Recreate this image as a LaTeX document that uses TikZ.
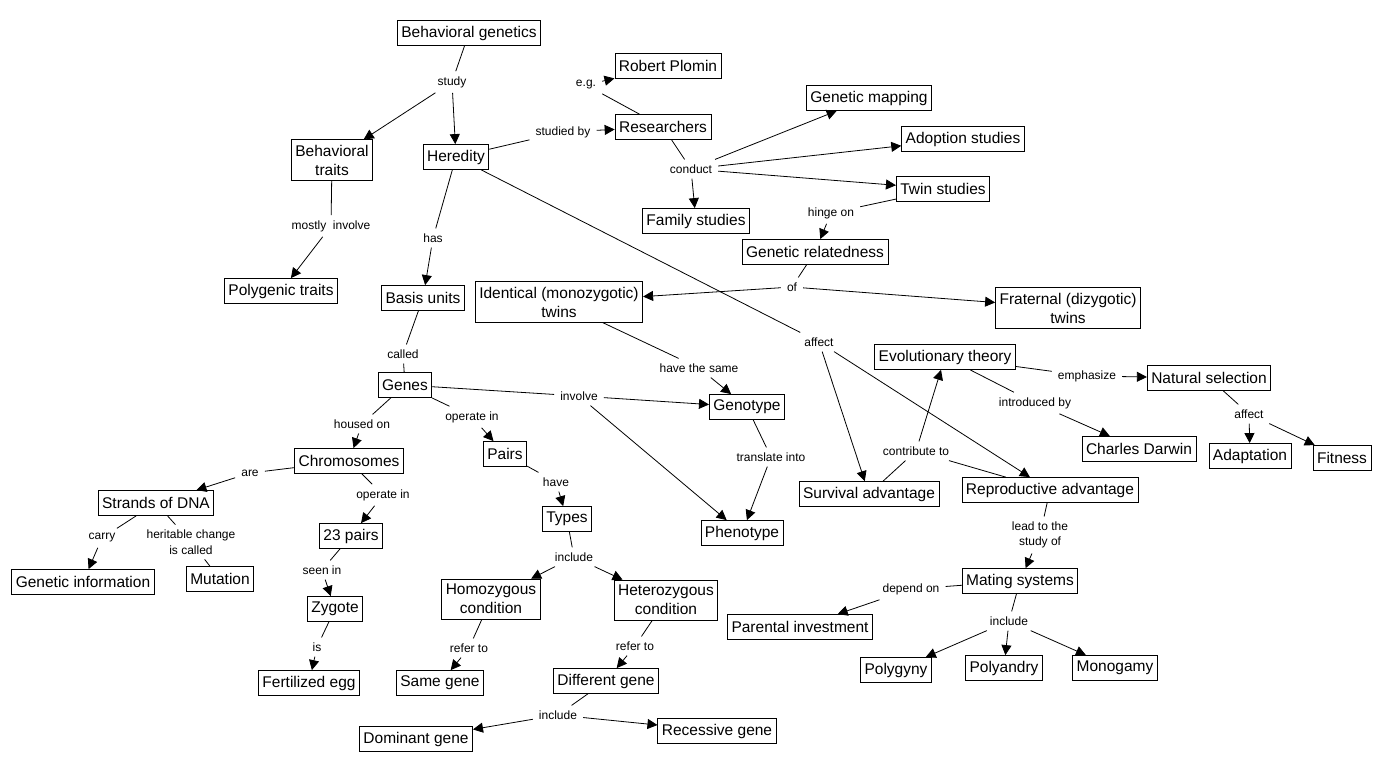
\documentclass[tikz,border=0pt]{standalone}
\usepackage{fontspec}
\setmainfont{Liberation Sans}
\usetikzlibrary{arrows.meta}
\tikzset{%
  concept/.style={draw, line width=0.8pt, align=center, font=\fontsize{15.5}{19}\selectfont, inner xsep=4pt, inner ysep=5pt, minimum height=25pt},
  phrase/.style={align=center, font=\fontsize{12}{15.5}\selectfont, inner xsep=6pt, inner ysep=5pt},
  line/.style={draw, line width=0.8pt, color=black},
  arrowline/.style={line, -{Triangle[length=10pt, width=10pt]}},
}
% source -- phrase, then phrase -> each target
\newcommand{\linkvia}[3]{%
  \path [line] (#1) -- (#2);
  \foreach \tgt in {#3} {\path [arrowline] (#2) -- (\tgt);}}

\begin{document}
\begin{tikzpicture}[x=1pt, y=-1pt]
  \fill [white] (0,0) rectangle (1387,772);
  \useasboundingbox (0,0) rectangle (1387,772);

  % concepts
  \node (bgen) [concept] at (469,33) {Behavioral genetics};
  \node (plomin) [concept] at (668,66) {Robert Plomin};
  \node (mapping) [concept] at (869,98) {Genetic mapping};
  \node (research) [concept] at (663,127) {Researchers};
  \node (adoption) [concept] at (963,139) {Adoption studies};
  \node (btraits) [concept] at (332,160) {Behavioral\\traits};
  \node (heredity) [concept] at (456,157) {Heredity};
  \node (twin) [concept] at (943,189) {Twin studies};
  \node (family) [concept] at (696,221) {Family studies};
  \node (relate) [concept] at (815,252) {Genetic relatedness};
  \node (polytraits) [concept] at (281,291) {Polygenic traits};
  \node (basis) [concept] at (423,298) {Basis units};
  \node (identical) [concept] at (559,302) {Identical (monozygotic)\\twins};
  \node (fraternal) [concept] at (1068,308) {Fraternal (dizygotic)\\twins};
  \node (evol) [concept] at (945,357) {Evolutionary theory};
  \node (natsel) [concept] at (1209,378) {Natural selection};
  \node (genes) [concept] at (405,385) {Genes};
  \node (genotype) [concept] at (747,407) {Genotype};
  \node (chromo) [concept] at (349,461) {Chromosomes};
  \node (pairs) [concept] at (505,454) {Pairs};
  \node (darwin) [concept] at (1139,449) {Charles Darwin};
  \node (adapt) [concept] at (1250,456) {Adaptation};
  \node (fitness) [concept] at (1342,458) {Fitness};
  \node (survival) [concept] at (869,494) {Survival advantage};
  \node (reprod) [concept] at (1050,490) {Reproductive advantage};
  \node (dna) [concept] at (156,503) {Strands of DNA};
  \node (types) [concept] at (567,519) {Types};
  \node (pheno) [concept] at (742,533) {Phenotype};
  \node (pairs23) [concept] at (351,536) {23 pairs};
  \node (info) [concept] at (83,582) {Genetic information};
  \node (mutation) [concept] at (220,579) {Mutation};
  \node (mating) [concept] at (1020,581) {Mating systems};
  \node (homo) [concept] at (491,599) {Homozygous\\condition};
  \node (hetero) [concept] at (666,600) {Heterozygous\\condition};
  \node (zygote) [concept] at (335,609) {Zygote};
  \node (parental) [concept] at (800,627) {Parental investment};
  \node (polygyny) [concept] at (896,670) {Polygyny};
  \node (polyandry) [concept] at (1004,668) {Polyandry};
  \node (monogamy) [concept] at (1115,668) {Monogamy};
  \node (same) [concept] at (440,683) {Same gene};
  \node (diff) [concept] at (606,681) {Different gene};
  \node (fegg) [concept] at (309,683) {Fertilized egg};
  \node (dominant) [concept] at (416,739) {Dominant gene};
  \node (recessive) [concept] at (717,731) {Recessive gene};

  % linking phrases
  \node (p-study) [phrase] at (452,82) {study};
  \node (p-eg) [phrase] at (586,85) {e.g.};
  \node (p-studied) [phrase] at (563,132) {studied by};
  \node (p-conduct) [phrase] at (691,169) {conduct};
  \node (p-hinge) [phrase] at (831,213) {hinge on};
  \node (p-mostly) [phrase] at (331,226) {mostly~~involve};
  \node (p-has) [phrase] at (433,238) {has};
  \node (p-of) [phrase] at (792,287) {of};
  \node (p-affect) [phrase] at (819,342) {affect};
  \node (p-called) [phrase] at (403,354) {called};
  \node (p-same) [phrase] at (699,368) {have the same};
  \node (p-involve) [phrase] at (579,396) {involve};
  \node (p-housed) [phrase] at (362,424) {housed on};
  \node (p-operate) [phrase] at (472,417) {operate in};
  \node (p-intro) [phrase] at (1035,403) {introduced by};
  \node (p-emph) [phrase] at (1087,376) {emphasize};
  \node (p-nsaffect) [phrase] at (1249,414) {affect};
  \node (p-contrib) [phrase] at (916,451) {contribute to};
  \node (p-translate) [phrase] at (771,457) {translate into};
  \node (p-are) [phrase] at (250,473) {are};
  \node (p-have) [phrase] at (556,482) {have};
  \node (p-opin) [phrase] at (383,495) {operate in};
  \node (p-carry) [phrase] at (102,538) {carry};
  \node (p-heritable) [phrase] at (191,542) {heritable change\\is called};
  \node (p-lead) [phrase] at (1040,535) {lead to the\\study of};
  \node (p-include) [phrase] at (574,557) {include};
  \node (p-seen) [phrase] at (322,570) {seen in};
  \node (p-depend) [phrase] at (911,589) {depend on};
  \node (p-mateinc) [phrase] at (1009,621) {include};
  \node (p-is) [phrase] at (317,647) {is};
  \node (p-referhomo) [phrase] at (469,648) {refer to};
  \node (p-referhet) [phrase] at (635,646) {refer to};
  \node (p-geneinc) [phrase] at (558,715) {include};

  % connections
  \linkvia{bgen}{p-study}{btraits, heredity}
  \linkvia{heredity}{p-studied}{research}
  \linkvia{research}{p-eg}{plomin}
  \linkvia{research}{p-conduct}{mapping, adoption, twin, family}
  \linkvia{twin}{p-hinge}{relate}
  \linkvia{relate}{p-of}{identical, fraternal}
  \linkvia{btraits}{p-mostly}{polytraits}
  \linkvia{heredity}{p-has}{basis}
  \linkvia{heredity}{p-affect}{survival, reprod}
  \path [line] (basis) -- (p-called);
  \path [line] (p-called) -- (genes);
  \linkvia{identical}{p-same}{genotype}
  \linkvia{genes}{p-involve}{genotype, pheno}
  \linkvia{genes}{p-housed}{chromo}
  \linkvia{genes}{p-operate}{pairs}
  \linkvia{evol}{p-intro}{darwin}
  \linkvia{evol}{p-emph}{natsel}
  \linkvia{natsel}{p-nsaffect}{adapt, fitness}
  \linkvia{survival}{p-contrib}{evol}
  \path [line] (reprod) -- (p-contrib);
  \linkvia{genotype}{p-translate}{pheno}
  \linkvia{chromo}{p-are}{dna}
  \linkvia{pairs}{p-have}{types}
  \linkvia{chromo}{p-opin}{pairs23}
  \linkvia{dna}{p-carry}{info}
  \path [line] (dna) -- (p-heritable);
  \path [line] (p-heritable) -- (mutation);
  \linkvia{reprod}{p-lead}{mating}
  \linkvia{types}{p-include}{homo, hetero}
  \linkvia{pairs23}{p-seen}{zygote}
  \linkvia{mating}{p-depend}{parental}
  \linkvia{mating}{p-mateinc}{polygyny, polyandry, monogamy}
  \linkvia{zygote}{p-is}{fegg}
  \linkvia{homo}{p-referhomo}{same}
  \linkvia{hetero}{p-referhet}{diff}
  \linkvia{diff}{p-geneinc}{dominant, recessive}
\end{tikzpicture}
\end{document}
